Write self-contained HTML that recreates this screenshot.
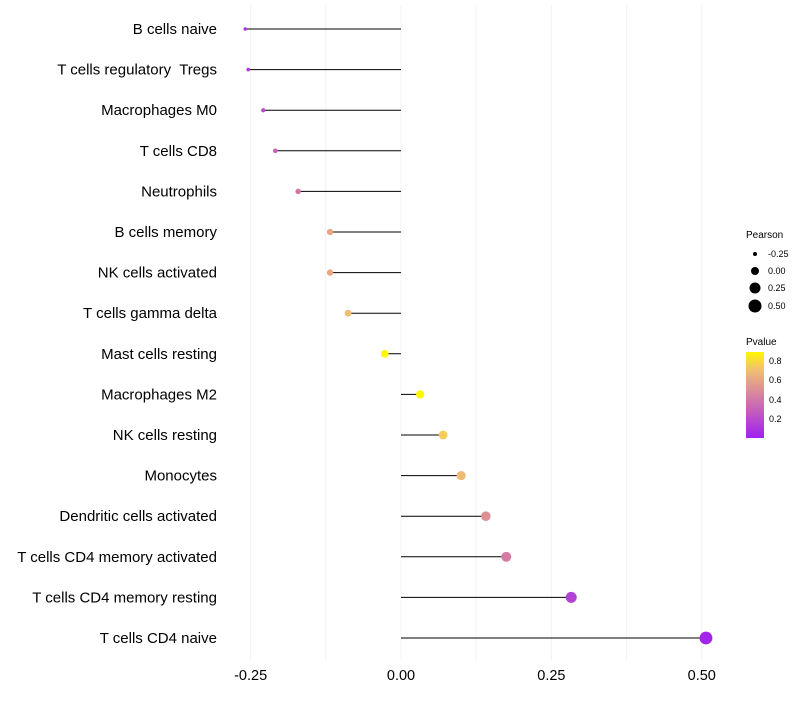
<!DOCTYPE html>
<html><head><meta charset="utf-8"><style>
body{margin:0;background:#fff;font-family:"Liberation Sans",sans-serif}
text{white-space:pre}
</style></head><body>
<svg id="chart" width="800" height="700" xmlns="http://www.w3.org/2000/svg">
<defs><linearGradient id="pg" x1="0" y1="1" x2="0" y2="0">
<stop offset="0" stop-color="#A020F0"/><stop offset="0.5" stop-color="#D882A0"/><stop offset="0.8" stop-color="#F2C070"/><stop offset="1" stop-color="#FFF700"/></linearGradient></defs>
<g id="grid"></g><g id="marks"></g><g id="labels"></g>
<g font-size="9" fill="#000">
<text x="746" y="238" font-size="10">Pearson</text>
<circle cx="755" cy="254" r="2"/><text x="768" y="257">-0.25</text>
<circle cx="755" cy="271" r="4"/><text x="768" y="274">0.00</text>
<circle cx="755" cy="288" r="5.5"/><text x="768" y="291">0.25</text>
<circle cx="755" cy="306" r="6.5"/><text x="768" y="309">0.50</text>
</g>
<g font-size="9" fill="#000">
<text x="746" y="345" font-size="10">Pvalue</text>
<rect x="746" y="352" width="18" height="86" fill="url(#pg)"/>
<text x="769" y="364">0.8</text><text x="769" y="383">0.6</text><text x="769" y="403">0.4</text><text x="769" y="422">0.2</text>
</g>
</svg>
<script>
const categories=["B cells naive","T cells regulatory  Tregs","Macrophages M0","T cells CD8","Neutrophils","B cells memory","NK cells activated","T cells gamma delta","Mast cells resting","Macrophages M2","NK cells resting","Monocytes","Dendritic cells activated","T cells CD4 memory activated","T cells CD4 memory resting","T cells CD4 naive"];
const pearson=[-0.259,-0.254,-0.229,-0.209,-0.171,-0.118,-0.118,-0.088,-0.027,0.032,0.070,0.100,0.141,0.175,0.283,0.507];
const pvalue=[0.1,0.12,0.2,0.3,0.4,0.6,0.6,0.7,0.89,0.89,0.75,0.68,0.5,0.42,0.15,0.02];
const xTicks=[-0.25,0,0.25,0.5];
const xTickLabels=["-0.25","0.00","0.25","0.50"];
const NS="http://www.w3.org/2000/svg";
const xs=v=>401+v*601.5;
const ys=i=>29+i*40.6;
function mk(t,a,p){const e=document.createElementNS(NS,t);for(const k in a)e.setAttribute(k,a[k]);p.appendChild(e);return e;}
function lerp(a,b,t){return a.map((x,i)=>Math.round(x+(b[i]-x)*t));}
function col(p){const t=Math.min(1,Math.max(0,p/0.89));const s=[[0,[160,32,240]],[0.5,[216,130,160]],[0.8,[242,192,112]],[1,[255,247,0]]];
for(let i=1;i<s.length;i++)if(t<=s[i][0]){const c=lerp(s[i-1][1],s[i][1],(t-s[i-1][0])/(s[i][0]-s[i-1][0]));return `rgb(${c})`;}return "rgb(255,247,0)";}
const g=document.getElementById('grid'),m=document.getElementById('marks'),l=document.getElementById('labels');
[-0.25,-0.125,0,0.125,0.25,0.375,0.5].forEach(v=>{const e=mk('line',{x1:xs(v),x2:xs(v),y1:5,y2:660,stroke:'#f3f3f3','stroke-width':1},g);

});
xTicks.forEach((v,i)=>{const t=mk('text',{x:xs(v),y:680,'text-anchor':'middle','font-size':14.5,fill:'#000'},l);t.textContent=xTickLabels[i];

});
categories.forEach((c,i)=>{const y=ys(i);
const t=mk('text',{x:217,y:y+5,'text-anchor':'end','font-size':15,fill:'#000'},l);t.textContent=c;


const ln=mk('line',{x1:xs(0),x2:xs(pearson[i]),y1:y,y2:y,stroke:'#000','stroke-width':1},m);


const r=Math.sqrt(Math.max(2,16+50*pearson[i]));
const ci=mk('circle',{cx:xs(pearson[i]),cy:y,r:r,fill:col(pvalue[i])},m);

});
</script>
</body></html>
